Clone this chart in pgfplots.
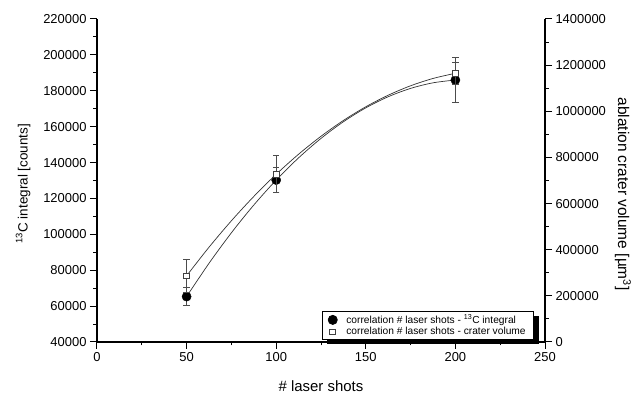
\documentclass[border=0pt]{standalone}
\usepackage{pgfplots}
\pgfplotsset{compat=1.18}
\usepackage{fontspec}
\setmainfont{Liberation Sans}
\usetikzlibrary{shadows}

\begin{document}
\begin{tikzpicture}
\pgfplotsset{
 common/.style={
  width=448bp, height=323bp, scale only axis,
  xmin=0, xmax=250,
  tick align=outside,
  major tick length=7bp, minor tick length=3.5bp,
  every tick/.style={black, line width=1bp},
  axis line style={black, line width=1.1bp},
  ticklabel style={font=\fontsize{13}{15}\selectfont},
  /pgf/number format/assume math mode=true,
  scaled ticks=false,
  yticklabel style={/pgf/number format/fixed,/pgf/number format/1000 sep={}},
  xticklabel style={/pgf/number format/fixed,/pgf/number format/1000 sep={}},
  clip=false,
 },
 ebar/.style={error bars/.cd, y dir=both, y explicit,
   error bar style={line width=0.8bp, black!70},
   error mark options={rotate=90, mark size=3.2bp, line width=0.8bp, black!70}},
 fitline/.style={smooth, black!80, line width=0.7bp, forget plot},
}
\begin{axis}[common, name=main,
  axis y line*=left, axis x line*=bottom,
  ymin=40000, ymax=220000, ytick={40000,60000,...,220000}, minor y tick num=1,
  xtick={0,50,...,250}, minor x tick num=1,
  xlabel={\# laser shots},
  xlabel style={at={(axis description cs:0.5,-0.138)}, anchor=center, font=\fontsize{15}{17}\selectfont},
  ylabel={\textsuperscript{13}C integral [counts]},
  ylabel style={at={(axis description cs:-0.165,0.49)}, anchor=center, font=\fontsize{13.5}{16}\selectfont},
]
% fitted curve (second-order fit, as drawn in the chart)
\addplot[fitline] coordinates {
 (50,65300) (62.5,83855) (75,100865) (87.5,116330) (100,130250)
 (112.5,142626) (125,153456) (137.5,162742) (150,170483)
 (162.5,176680) (175,181331) (187.5,184438) (200,186000)};
\addplot[only marks, mark=*, mark size=4.6bp, black, ebar] coordinates {
 (50,65300) +- (0,5000)
 (100,130250) +- (0,6800)
 (200,186000) +- (0,12500)
};
\end{axis}
\begin{axis}[common,
  axis y line*=right, axis x line=none,
  ymin=0, ymax=1400000, ytick={0,200000,...,1400000}, minor y tick num=1,
  ylabel={ablation crater volume [µm\textsuperscript{3}]},
  ylabel style={at={(axis description cs:1.174,0.458)}, anchor=center, rotate=180, font=\fontsize{15.5}{18}\selectfont},
  legend image code/.code={\draw[#1] plot coordinates {(0bp,0bp)};},
  legend style={at={(0.9755,0.096)}, anchor=north east,
    font=\fontsize{10.25}{12}\selectfont, draw=black, line width=0.7bp, fill=white,
    inner xsep=6bp, inner ysep=1.5bp, row sep=-1.5bp, cells={anchor=west},
    /tikz/every odd column/.append style={column sep=7bp},
    drop shadow={shadow xshift=5bp, shadow yshift=-4.5bp, fill=black, opacity=1}},
]
\addlegendimage{only marks, mark=*, mark size=4.6bp, black}
\addlegendentry{correlation \# laser shots - \textsuperscript{13}C integral}
\addplot[fitline] coordinates {
 (50,287000) (62.5,410822) (75,525429) (87.5,630822) (100,727000)
 (112.5,813964) (125,891713) (137.5,960247) (150,1019567)
 (162.5,1069672) (175,1110562) (187.5,1142238) (200,1164700)};
\addplot[only marks, mark=square*, mark size=2.9bp, mark options={fill=white, draw=black!75, line width=0.7bp}, ebar] coordinates {
 (50,287000) +- (0,73000)
 (100,727000) +- (0,80000)
 (200,1164700) +- (0,49000)
};
\addlegendentry{correlation \# laser shots - crater volume}
\end{axis}
\path[use as bounding box] ([shift={(-97bp,-52bp)}]main.south west) rectangle ([shift={(91bp,19bp)}]main.north east);
\end{tikzpicture}
\end{document}
